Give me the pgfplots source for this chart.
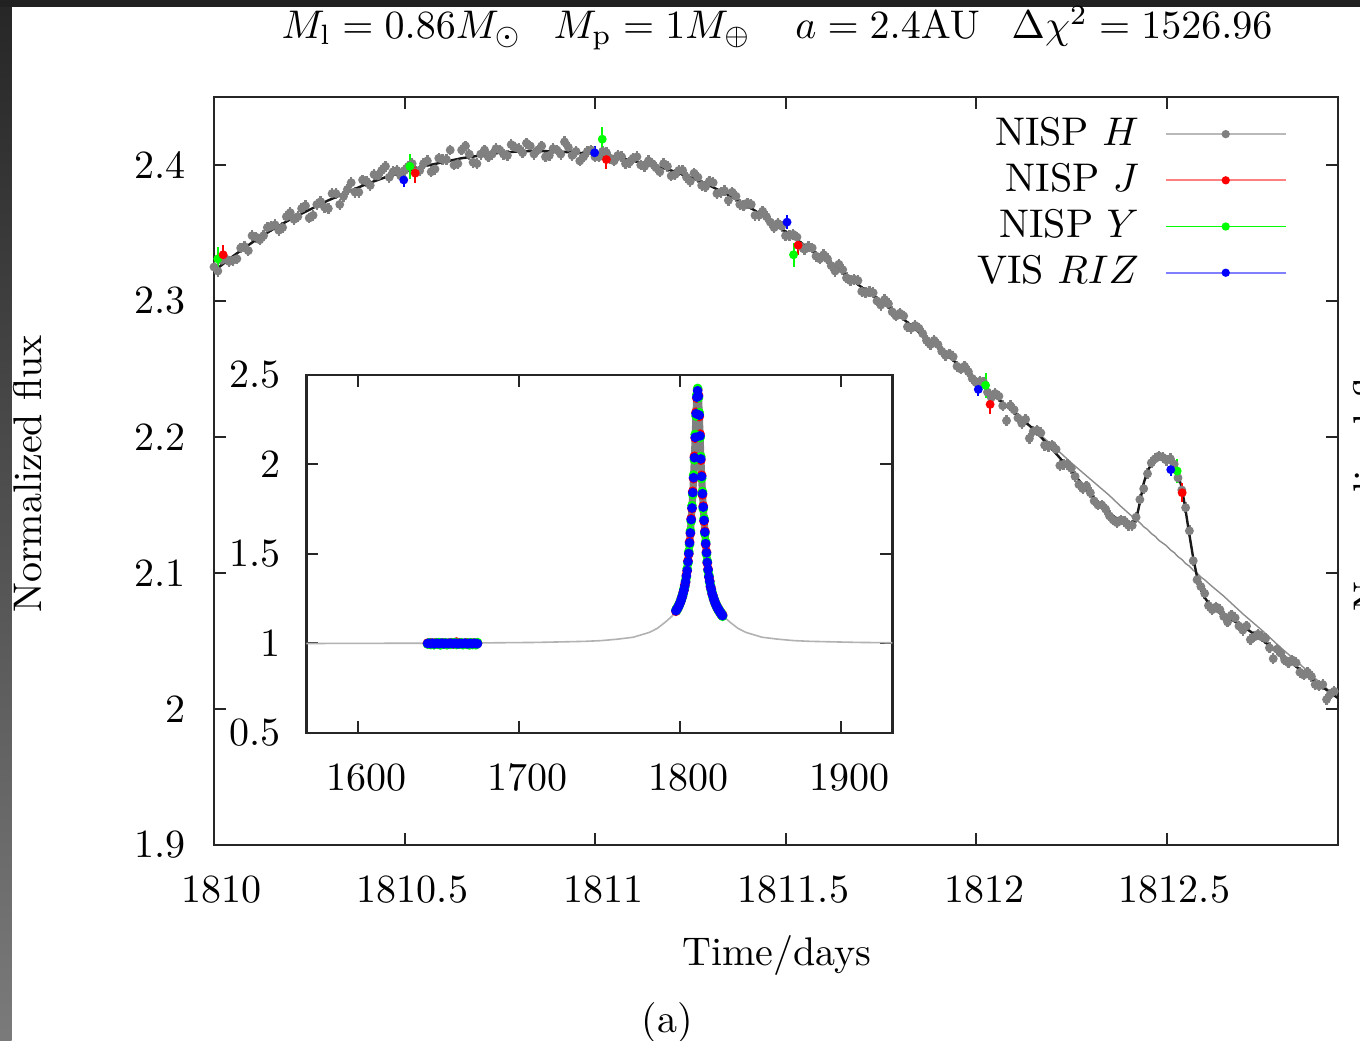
\documentclass[border=0pt]{standalone}
\usepackage{pgfplots}
\pgfplotsset{compat=1.18}
\usepackage{pgfplotstable}

% NISP H photometry, main panel (even samples)
\pgfplotstableread{
t f
1810.00 2.325
1810.02 2.330
1810.04 2.329
1810.06 2.331
1810.08 2.340
1810.10 2.348
1810.12 2.345
1810.14 2.354
1810.16 2.356
1810.18 2.354
1810.20 2.365
1810.22 2.362
1810.24 2.370
1810.26 2.363
1810.28 2.373
1810.30 2.368
1810.32 2.379
1810.34 2.377
1810.36 2.387
1810.38 2.380
1810.40 2.388
1810.42 2.393
1810.44 2.396
1810.46 2.391
1810.48 2.396
1810.50 2.396
1810.52 2.401
1810.54 2.396
1810.56 2.403
1810.58 2.397
1810.60 2.404
1810.62 2.411
1810.64 2.401
1810.66 2.414
1810.68 2.402
1810.70 2.408
1810.72 2.406
1810.74 2.412
1810.76 2.408
1810.78 2.415
1810.80 2.412
1810.82 2.416
1810.84 2.408
1810.86 2.414
1810.88 2.407
1810.90 2.411
1810.92 2.417
1810.94 2.407
1810.96 2.403
1810.98 2.410
1811.00 2.406
1811.02 2.410
1811.04 2.405
1811.06 2.407
1811.08 2.401
1811.10 2.405
1811.12 2.400
1811.14 2.403
1811.16 2.398
1811.18 2.401
1811.20 2.392
1811.22 2.396
1811.24 2.391
1811.26 2.394
1811.28 2.385
1811.30 2.388
1811.32 2.379
1811.34 2.381
1811.36 2.380
1811.38 2.371
1811.40 2.372
1811.42 2.363
1811.44 2.366
1811.46 2.358
1811.48 2.357
1811.50 2.348
1811.52 2.349
1811.54 2.340
1811.56 2.340
1811.58 2.333
1811.60 2.334
1811.62 2.326
1811.64 2.327
1811.66 2.317
1811.68 2.316
1811.70 2.307
1811.72 2.307
1811.74 2.300
1811.76 2.301
1811.78 2.292
1811.80 2.291
1811.82 2.281
1811.84 2.282
1811.86 2.276
1811.88 2.268
1811.90 2.268
1811.92 2.260
1811.94 2.259
1811.96 2.250
1811.98 2.248
1812.00 2.240
1812.02 2.240
1812.04 2.229
1812.06 2.230
1812.08 2.212
1812.10 2.220
1812.12 2.210
1812.14 2.199
1812.16 2.205
1812.18 2.194
1812.20 2.194
1812.22 2.179
1812.24 2.180
1812.26 2.171
1812.28 2.162
1812.30 2.159
1812.32 2.150
1812.34 2.147
1812.36 2.139
1812.38 2.139
1812.40 2.135
1812.42 2.141
1812.44 2.162
1812.46 2.181
1812.48 2.186
1812.50 2.183
1812.52 2.180
1812.54 2.161
1812.56 2.131
1812.58 2.095
1812.60 2.085
1812.62 2.073
1812.64 2.073
1812.66 2.064
1812.68 2.067
1812.70 2.058
1812.72 2.051
1812.74 2.055
1812.76 2.052
1812.78 2.037
1812.80 2.041
1812.82 2.034
1812.84 2.034
1812.86 2.025
1812.88 2.024
1812.90 2.017
1812.92 2.007
1812.94 2.013
}\Hdata

% NISP H photometry, main panel (odd samples)
\pgfplotstableread{
t f
1810.01 2.322
1810.03 2.331
1810.05 2.330
1810.07 2.339
1810.09 2.337
1810.11 2.347
1810.13 2.348
1810.15 2.355
1810.17 2.352
1810.19 2.362
1810.21 2.360
1810.23 2.368
1810.25 2.361
1810.27 2.371
1810.29 2.369
1810.31 2.379
1810.33 2.371
1810.35 2.382
1810.37 2.380
1810.39 2.389
1810.41 2.385
1810.43 2.392
1810.45 2.399
1810.47 2.395
1810.49 2.392
1810.51 2.399
1810.53 2.395
1810.55 2.401
1810.57 2.395
1810.59 2.405
1810.61 2.404
1810.63 2.400
1810.65 2.411
1810.67 2.408
1810.69 2.401
1810.71 2.411
1810.73 2.408
1810.75 2.411
1810.77 2.407
1810.79 2.413
1810.81 2.409
1810.83 2.414
1810.85 2.411
1810.87 2.406
1810.89 2.412
1810.91 2.408
1810.93 2.413
1810.95 2.410
1810.97 2.406
1810.99 2.411
1811.01 2.406
1811.03 2.409
1811.05 2.403
1811.07 2.406
1811.09 2.402
1811.11 2.406
1811.13 2.399
1811.15 2.401
1811.17 2.395
1811.19 2.399
1811.21 2.393
1811.23 2.396
1811.25 2.388
1811.27 2.391
1811.29 2.384
1811.31 2.387
1811.33 2.380
1811.35 2.374
1811.37 2.377
1811.39 2.370
1811.41 2.371
1811.43 2.363
1811.45 2.362
1811.47 2.354
1811.49 2.355
1811.51 2.348
1811.53 2.347
1811.55 2.338
1811.57 2.339
1811.59 2.331
1811.61 2.331
1811.63 2.322
1811.65 2.323
1811.67 2.315
1811.69 2.315
1811.71 2.306
1811.73 2.306
1811.75 2.297
1811.77 2.298
1811.79 2.289
1811.81 2.289
1811.83 2.280
1811.85 2.280
1811.87 2.271
1811.89 2.271
1811.91 2.263
1811.93 2.261
1811.95 2.252
1811.97 2.252
1811.99 2.243
1812.01 2.241
1812.03 2.233
1812.05 2.232
1812.07 2.223
1812.09 2.223
1812.11 2.214
1812.13 2.213
1812.15 2.204
1812.17 2.203
1812.19 2.193
1812.21 2.191
1812.23 2.180
1812.25 2.177
1812.27 2.165
1812.29 2.164
1812.31 2.153
1812.33 2.150
1812.35 2.142
1812.37 2.137
1812.39 2.138
1812.41 2.135
1812.43 2.154
1812.45 2.173
1812.47 2.184
1812.49 2.185
1812.51 2.184
1812.53 2.170
1812.55 2.148
1812.57 2.109
1812.59 2.090
1812.61 2.076
1812.63 2.075
1812.65 2.068
1812.67 2.069
1812.69 2.061
1812.71 2.061
1812.73 2.053
1812.75 2.053
1812.77 2.045
1812.79 2.044
1812.81 2.036
1812.83 2.036
1812.85 2.027
1812.87 2.027
1812.89 2.018
1812.91 2.018
1812.93 2.011
}\Hdatab

% models: p = with planet, s = single lens
\pgfplotstableread{
t p s
1810.00 2.322 2.322
1810.05 2.333 2.333
1810.10 2.343 2.343
1810.15 2.352 2.352
1810.20 2.360 2.360
1810.25 2.367 2.367
1810.30 2.374 2.374
1810.35 2.380 2.380
1810.40 2.386 2.386
1810.45 2.391 2.391
1810.50 2.395 2.395
1810.55 2.399 2.399
1810.60 2.402 2.402
1810.65 2.405 2.405
1810.70 2.407 2.407
1810.75 2.409 2.409
1810.80 2.410 2.410
1810.85 2.4103 2.4103
1810.90 2.410 2.410
1810.95 2.409 2.409
1811.00 2.408 2.408
1811.05 2.406 2.406
1811.10 2.403 2.403
1811.15 2.400 2.400
1811.20 2.396 2.396
1811.25 2.391 2.391
1811.30 2.385 2.385
1811.35 2.378 2.378
1811.40 2.370 2.370
1811.45 2.361 2.361
1811.50 2.351 2.351
1811.55 2.341 2.341
1811.60 2.331 2.331
1811.65 2.321 2.321
1811.70 2.310 2.310
1811.75 2.300 2.300
1811.80 2.289 2.289
1811.85 2.277 2.277
1811.90 2.266 2.266
1811.95 2.254 2.254
1812.00 2.242 2.242
1812.05 2.230 2.230
1812.10 2.218 2.218
1812.15 2.206 2.206
1812.20 2.191 2.194
1812.25 2.175 2.181
1812.30 2.158 2.169
1812.35 2.144 2.157
1812.38 2.138 2.149
1812.40 2.136 2.144
1812.42 2.139 2.139
1812.43 2.152 2.137
1812.44 2.166 2.134
1812.45 2.175 2.132
1812.46 2.180 2.129
1812.47 2.183 2.127
1812.48 2.185 2.124
1812.49 2.186 2.122
1812.50 2.185 2.120
1812.51 2.183 2.117
1812.52 2.179 2.115
1812.53 2.172 2.112
1812.54 2.163 2.110
1812.55 2.146 2.107
1812.56 2.128 2.105
1812.57 2.111 2.102
1812.58 2.097 2.100
1812.59 2.088 2.097
1812.60 2.082 2.095
1812.62 2.074 2.090
1812.65 2.069 2.083
1812.70 2.061 2.070
1812.75 2.051 2.058
1812.80 2.040 2.045
1812.85 2.029 2.033
1812.90 2.018 2.020
1812.95 2.008 2.008
}\model

\pgfplotstableread{
t f
1810.010 2.331
1810.514 2.399
1811.019 2.419
1811.521 2.334
1812.025 2.238
1812.528 2.175
}\Ymain

\pgfplotstableread{
t f
1810.024 2.334
1810.528 2.394
1811.030 2.404
1811.533 2.341
1812.037 2.224
1812.541 2.159
}\Jmain

\pgfplotstableread{
t f
1810.498 2.389
1810.999 2.409
1811.504 2.358
1812.006 2.235
1812.511 2.176
}\Rmain

% inset: single-lens model
\pgfplotstableread{
t f
1567.7 1.000
1610.85 1.001
1660.85 1.002
1710.85 1.006
1740.85 1.012
1750.85 1.016
1760.85 1.024
1770.85 1.035
1780.85 1.062
1785.85 1.085
1790.85 1.120
1794.85 1.152
1796.85 1.175
1798.85 1.205
1800.85 1.250
1802.85 1.320
1804.85 1.455
1805.85 1.560
1806.85 1.690
1807.85 1.840
1808.85 2.035
1809.35 2.157
1809.85 2.280
1810.35 2.379
1810.85 2.410
1811.35 2.379
1811.85 2.280
1812.35 2.157
1812.85 2.035
1813.85 1.840
1814.85 1.690
1815.85 1.560
1816.85 1.455
1818.85 1.320
1820.85 1.250
1822.85 1.205
1824.85 1.175
1826.85 1.152
1830.85 1.120
1835.85 1.085
1840.85 1.062
1850.85 1.035
1860.85 1.024
1870.85 1.016
1880.85 1.012
1910.85 1.006
1931.9 1.004
}\Minset

% inset: dense H data around the peak
\pgfplotstableread{
t f
1804.85 1.455
1805.35 1.505
1805.85 1.560
1806.35 1.620
1806.85 1.690
1807.35 1.760
1807.85 1.840
1808.35 1.930
1808.85 2.035
1809.35 2.157
1809.85 2.280
1810.35 2.379
1810.85 2.410
1811.35 2.379
1811.85 2.280
1812.35 2.157
1812.85 2.035
1813.35 1.930
1813.85 1.840
1814.35 1.760
1814.85 1.690
1815.35 1.620
1815.85 1.560
1816.35 1.505
1816.85 1.455
}\Hin

% inset: J, Y, RIZ around the peak
\pgfplotstableread{
t J Y R
1797.35 1.180 1.188 1.183
1797.85 1.193 1.185 1.190
1798.35 1.195 1.203 1.196
1798.85 1.209 1.200 1.206
1799.35 1.213 1.220 1.214
1799.85 1.229 1.222 1.226
1800.35 1.234 1.243 1.236
1800.85 1.255 1.247 1.251
1801.35 1.262 1.271 1.264
1801.85 1.286 1.276 1.282
1802.35 1.296 1.307 1.299
1802.85 1.327 1.315 1.322
1803.35 1.341 1.352 1.344
1803.85 1.382 1.370 1.377
1804.35 1.405 1.418 1.408
1804.85 1.462 1.449 1.457
1805.35 1.500 1.513 1.503
1805.85 1.568 1.553 1.562
1806.35 1.614 1.629 1.618
1806.85 1.698 1.683 1.692
1807.35 1.753 1.770 1.757
1807.85 1.850 1.832 1.843
1808.35 1.921 1.941 1.926
1808.85 2.046 2.026 2.038
1809.35 2.147 2.168 2.152
1809.85 2.292 2.271 2.284
1810.35 2.370 2.390 2.376
1810.85 2.418 2.425 2.412
1811.35 2.388 2.372 2.382
1811.85 2.268 2.290 2.276
1812.35 2.170 2.150 2.160
1812.85 2.024 2.044 2.031
1813.35 1.940 1.922 1.933
1813.85 1.830 1.849 1.837
1814.35 1.768 1.752 1.762
1814.85 1.682 1.698 1.688
1815.35 1.627 1.613 1.622
1815.85 1.553 1.567 1.558
1816.35 1.511 1.499 1.507
1816.85 1.449 1.461 1.453
1817.35 1.416 1.405 1.412
1817.85 1.370 1.381 1.373
1818.35 1.350 1.340 1.347
1818.85 1.316 1.325 1.318
1819.35 1.305 1.295 1.302
1819.85 1.276 1.285 1.279
1820.35 1.269 1.260 1.266
1820.85 1.246 1.255 1.249
1821.35 1.241 1.232 1.238
1821.85 1.221 1.230 1.224
1822.35 1.219 1.210 1.216
1822.85 1.201 1.210 1.204
1823.35 1.201 1.192 1.198
1823.85 1.185 1.194 1.188
1824.35 1.186 1.177 1.183
1824.85 1.171 1.180 1.174
1825.35 1.172 1.163 1.169
1825.85 1.158 1.167 1.161
1826.35 1.161 1.152 1.156
}\Pin

% inset: baseline cluster
\pgfplotstableread{
t J Y R
1643 1.002 0.997 1.000
1644 0.999 1.004 1.001
1645 1.003 0.994 0.999
1646 0.998 1.001 1.002
1647 1.001 0.993 0.998
1648 1.004 1.003 1.000
1649 0.997 0.996 1.001
1650 1.000 1.005 0.999
1651 1.002 0.992 1.000
1652 0.999 1.002 1.002
1653 1.003 0.997 0.998
1654 1.001 1.004 1.001
1655 0.998 0.993 1.000
1656 1.002 1.001 0.999
1657 1.000 0.995 1.002
1658 1.004 1.003 1.000
1659 0.997 0.998 0.999
1660 1.001 1.005 1.001
1661 1.008 0.994 1.000
1662 1.003 1.002 0.998
1663 0.999 0.996 1.001
1664 1.002 1.004 1.000
1665 1.000 0.993 0.999
1666 0.998 1.001 1.002
1667 1.003 0.995 1.000
1668 1.001 1.003 0.998
1669 0.999 0.992 1.001
1670 1.002 1.004 1.000
1671 1.000 0.994 0.999
1672 1.003 1.002 1.001
1673 0.998 0.993 1.000
1674 1.001 1.005 0.999
}\Cin

\begin{document}
\begin{tikzpicture}
\useasboundingbox (0,0) rectangle (340pt,260pt);
\fill[white] (0,0) rectangle (340pt,260pt);
\shade[top color=black!85, bottom color=black!52] (0,0) rectangle (2.9pt,260pt);
\fill[black!87] (0,258.3pt) rectangle (340pt,260pt);

\begin{axis}[
  at={(53.5pt,48.75pt)}, anchor=south west,
  width=281pt, height=187pt, scale only axis,
  xmin=1810, xmax=1812.95, ymin=1.9, ymax=2.45,
  scaled x ticks=false, scaled y ticks=false,
  xtick={1810,1810.5,1811,1811.5,1812,1812.5},
  xticklabels={1810,1810.5,1811,1811.5,1812,1812.5},
  ytick={1.9,2,2.1,2.2,2.3,2.4},
  yticklabels={1.9,2,2.1,2.2,2.3,2.4},
  tick align=inside,
  major tick length=3pt,
  tick style={black!85, line width=0.5pt},
  axis line style={black!85, line width=0.6pt},
  xticklabel style={yshift=-4.2pt, xshift=2pt},
  yticklabel style={xshift=-3.5pt},
  legend cell align=right,
  legend plot pos=right,
  legend style={draw=none, fill=none, at={(0.955,0.985)}, anchor=north east, row sep=-1pt, column sep=4.5pt, inner sep=0pt},
  legend image code/.code={\draw[mark repeat=2,mark phase=2,#1] plot coordinates {(0pt,0pt) (15pt,0pt) (30pt,0pt)};},
]
\addlegendimage{gray!55, line width=0.45pt, mark=*, mark size=0.8pt, mark options={draw=gray, fill=gray, solid}}
\addlegendentry{NISP $H$}
\addlegendimage{red!50, line width=0.45pt, mark=*, mark size=0.8pt, mark options={draw=red, fill=red, solid}}
\addlegendentry{NISP $J$}
\addlegendimage{green, line width=0.45pt, mark=*, mark size=0.8pt, mark options={draw=green, fill=green, solid}}
\addlegendentry{NISP $Y$}
\addlegendimage{blue!50, line width=0.45pt, mark=*, mark size=0.8pt, mark options={draw=blue, fill=blue, solid}}
\addlegendentry{VIS $RIZ$}

\addplot[gray!90, line width=0.35pt, forget plot] table[x=t,y=s]{\model};
\addplot[only marks, mark=*, mark size=0.9pt, color=gray, mark options={draw=gray, fill=gray}, forget plot,
  error bars/.cd, y dir=both, y fixed=0.004, error mark=none, error bar style={gray, line width=0.6pt}]
  table[x=t,y=f]{\Hdata};
\addplot[only marks, mark=*, mark size=0.9pt, color=gray, mark options={draw=gray, fill=gray}, forget plot,
  error bars/.cd, y dir=both, y fixed=0.004, error mark=none, error bar style={gray, line width=0.6pt}]
  table[x=t,y=f]{\Hdatab};
\addplot[black!90, line width=0.6pt, forget plot] table[x=t,y=p]{\model};
\addplot[only marks, mark=*, mark size=0.9pt, color=green, mark options={draw=green, fill=green}, forget plot,
  error bars/.cd, y dir=both, y fixed=0.009, error mark=none, error bar style={green, line width=0.5pt}]
  table[x=t,y=f]{\Ymain};
\addplot[only marks, mark=*, mark size=0.9pt, color=red, mark options={draw=red, fill=red}, forget plot,
  error bars/.cd, y dir=both, y fixed=0.007, error mark=none, error bar style={red, line width=0.5pt}]
  table[x=t,y=f]{\Jmain};
\addplot[only marks, mark=*, mark size=0.9pt, color=blue, mark options={draw=blue, fill=blue}, forget plot,
  error bars/.cd, y dir=both, y fixed=0.005, error mark=none, error bar style={blue, line width=0.5pt}]
  table[x=t,y=f]{\Rmain};
\end{axis}

\begin{axis}[
  at={(76.6pt,76.75pt)}, anchor=south west,
  width=146.5pt, height=89.5pt, scale only axis,
  axis background/.style={fill=white},
  xmin=1567.7, xmax=1931.9, ymin=0.5, ymax=2.5,
  scaled x ticks=false, scaled y ticks=false,
  xtick={1600,1700,1800,1900},
  xticklabels={1600,1700,1800,1900},
  ytick={0.5,1,1.5,2,2.5},
  yticklabels={0.5,1,1.5,2,2.5},
  tick align=inside,
  major tick length=3pt,
  tick style={black!85, line width=0.5pt},
  axis line style={black!85, line width=0.6pt},
  xticklabel style={yshift=-4.2pt, xshift=2pt},
  yticklabel style={xshift=-3pt},
]
\addplot[gray!60, line width=0.4pt] table[x=t,y=f]{\Minset};
\addplot[gray, line width=1.8pt, line join=round, line cap=round] table[x=t,y=f]{\Hin};
\addplot[only marks, mark=*, mark size=1pt, color=red, mark options={draw=red, fill=red}] table[x=t,y=J]{\Pin};
\addplot[only marks, mark=*, mark size=1pt, color=green, mark options={draw=green, fill=green}] table[x=t,y=Y]{\Pin};
\addplot[only marks, mark=*, mark size=1pt, color=blue, mark options={draw=blue, fill=blue}] table[x=t,y=R]{\Pin};
\addplot[only marks, mark=*, mark size=1pt, color=red, mark options={draw=red, fill=red}] table[x=t,y=J]{\Cin};
\addplot[only marks, mark=*, mark size=1pt, color=green, mark options={draw=green, fill=green}] table[x=t,y=Y]{\Cin};
\addplot[only marks, mark=*, mark size=1pt, color=blue, mark options={draw=blue, fill=blue}] table[x=t,y=R]{\Cin};
\end{axis}

\node at (194.25pt,253pt) {$M_\mathrm{l} = 0.86M_\odot$\hspace{8pt}$M_\mathrm{p} = 1M_\oplus$\hspace{11pt}$a = 2.4\mathrm{AU}$\hspace{8pt}$\Delta\chi^2 = 1526.96$};
\node at (194.25pt,21.25pt) {Time/days};
\node[rotate=90] at (7pt,141.5pt) {Normalized flux};
\node at (166.75pt,4.5pt) {(a)};
\node[rotate=90, anchor=north, inner sep=0pt] at (338pt,141.75pt) {Normalized flux};
\end{tikzpicture}
\end{document}
